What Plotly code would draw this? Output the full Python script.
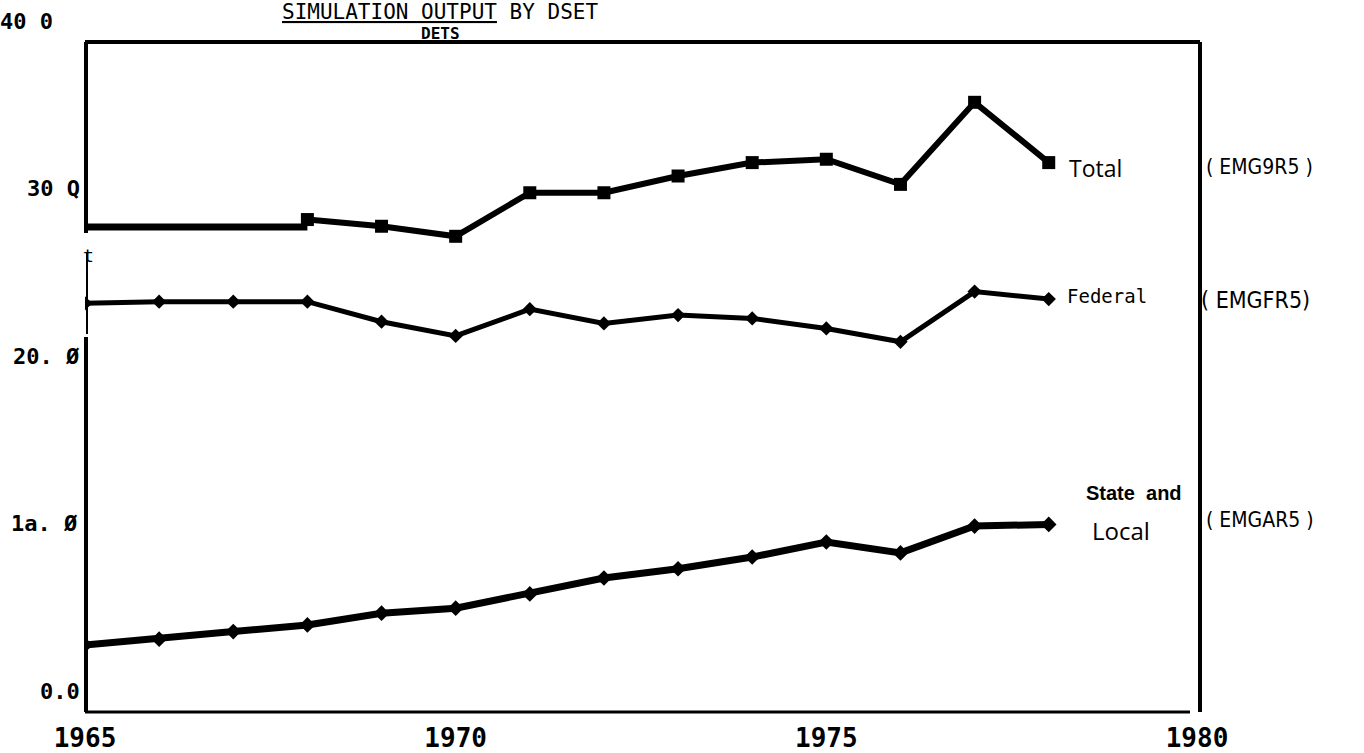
import plotly.graph_objects as go

# --- data ---
years = [1965, 1966, 1967, 1968, 1969, 1970, 1971, 1972, 1973, 1974, 1975, 1976, 1977, 1978]

total_years = [1968, 1969, 1970, 1971, 1972, 1973, 1974, 1975, 1976, 1977, 1978]
total_values = [29.4, 29.0, 28.4, 31.0, 31.0, 32.0, 32.8, 33.0, 31.5, 36.4, 32.8]
total_lead_years = [1965, 1968]
total_lead_values = [28.95, 28.95]

federal_values = [24.4, 24.5, 24.5, 24.5, 23.3, 22.45, 24.05, 23.2, 23.7, 23.5, 22.9, 22.1, 25.1, 24.65]
state_values = [4.0, 4.35, 4.8, 5.2, 5.9, 6.2, 7.05, 8.0, 8.55, 9.25, 10.15, 9.5, 11.1, 11.2]

x_tick_vals = [1965, 1970, 1975, 1980]
x_tick_text = ['1965', '1970', '1975', '1980']
y_tick_vals = [40, 30, 20, 10, 0]
y_tick_text = ['40 0', '30 Q', '20. Ø', '1a. Ø', '0.0']

W, H = 1364, 753
L, R, T, B = 85, 1197, 42, 712


def px(x):
    return (x - L) / (R - L)


def py(y):
    return (B - y) / (B - T)


fig = go.Figure()

fig.add_trace(go.Scatter(
    x=total_lead_years, y=total_lead_values, mode='lines',
    line=dict(color='black', width=7), showlegend=False, hoverinfo='skip'
))
fig.add_trace(go.Scatter(
    x=total_years, y=total_values, mode='lines+markers', name='Total',
    line=dict(color='black', width=6),
    marker=dict(symbol='square', size=13, color='black')
))
fig.add_trace(go.Scatter(
    x=years, y=federal_values, mode='lines+markers', name='Federal',
    line=dict(color='black', width=5),
    marker=dict(symbol='diamond', size=11, color='black')
))
fig.add_trace(go.Scatter(
    x=years, y=state_values, mode='lines+markers', name='State and Local',
    line=dict(color='black', width=7),
    marker=dict(symbol='diamond', size=12, color='black')
))

# frame drawn by hand, as in the scan
frame = [
    (px(85), 1, px(1200), 1, 4),        # top
    (px(1200), 1, px(1200), 0, 4),      # right
    (px(85), 0, px(1190), 0, 3),        # bottom
    (px(86), 1, px(86), py(233), 4),    # left, upper
    (px(87), py(253), px(87), py(334), 2),
    (px(86), py(337), px(86), 0, 4),    # left, lower
]
for x0, y0, x1, y1, w in frame:
    fig.add_shape(type='line', xref='paper', yref='paper',
                  x0=x0, y0=y0, x1=x1, y1=y1,
                  line=dict(color='black', width=w))

mono = 'DejaVu Sans Mono'
narrow = 'DejaVu Sans Condensed, Liberation Sans Narrow, Roboto, sans-serif'

ann = []
# y tick labels (printed slightly above their ticks in the original)
y_label_right = [55, 82, 82, 80, 82]
for v, t, xr in zip(y_tick_vals, y_tick_text, y_label_right):
    ann.append(dict(x=px(xr), y=v, xref='paper', yref='y', text=t,
                    xanchor='right', yanchor='middle', yshift=21, showarrow=False,
                    font=dict(family=mono, size=22, color='black', weight='bold')))

ann += [
    dict(x=px(440), y=py(12), text='<u>SIMULATION OUTPUT</u> BY DSET', borderpad=0,
         font=dict(family=mono, size=21, color='black')),
    dict(x=px(440), y=py(33), text='DETS', borderpad=0,
         font=dict(family=mono, size=16, color='black', weight='bold')),
    dict(x=px(88), y=py(256), text='t',
         font=dict(family=mono, size=18, color='black')),
    dict(x=px(1095), y=py(168), text='Total',
         font=dict(family='Open Sans', size=23, color='black')),
    dict(x=px(1259), y=py(167), text='( EMG9R5 )',
         font=dict(family=narrow, size=21, color='black')),
    dict(x=px(1107), y=py(296), text='Federal',
         font=dict(family=mono, size=19, color='black')),
    dict(x=px(1255), y=py(300), text='( EMGFR5)',
         font=dict(family=narrow, size=23, color='black')),
    dict(x=px(1134), y=py(493), text='State  and',
         font=dict(family='Liberation Sans', size=20, color='black', weight='bold')),
    dict(x=px(1121), y=py(530), text='Local',
         font=dict(family='Open Sans', size=24, color='black')),
    dict(x=px(1260), y=py(520), text='( EMGAR5 )',
         font=dict(family=narrow, size=21, color='black')),
]
for a in ann:
    a.setdefault('xref', 'paper')
    a.setdefault('yref', 'paper')
    a.setdefault('showarrow', False)
    a.setdefault('xanchor', 'center')
    a.setdefault('yanchor', 'middle')
fig.update_layout(annotations=ann)

fig.update_layout(
    width=W, height=H,
    margin=dict(l=L, r=W - R, t=T, b=H - B),
    paper_bgcolor='white', plot_bgcolor='white',
    showlegend=False,
    xaxis=dict(range=[1965, 1980], showgrid=False, zeroline=False, showline=False,
               ticks='', tickvals=x_tick_vals, ticktext=x_tick_text,
               ticklabelstandoff=8, automargin=False,
               tickfont=dict(family=mono, size=26, color='black', weight='bold')),
    yaxis=dict(range=[0, 40], showgrid=False, zeroline=False, showline=False,
               ticks='', showticklabels=False, automargin=False),
)

# drop the default page margin so the figure fills the window exactly
fig.write_html('out.html', config={'displayModeBar': False},
               post_script="document.body.style.margin='0';document.body.style.overflow='hidden';")
